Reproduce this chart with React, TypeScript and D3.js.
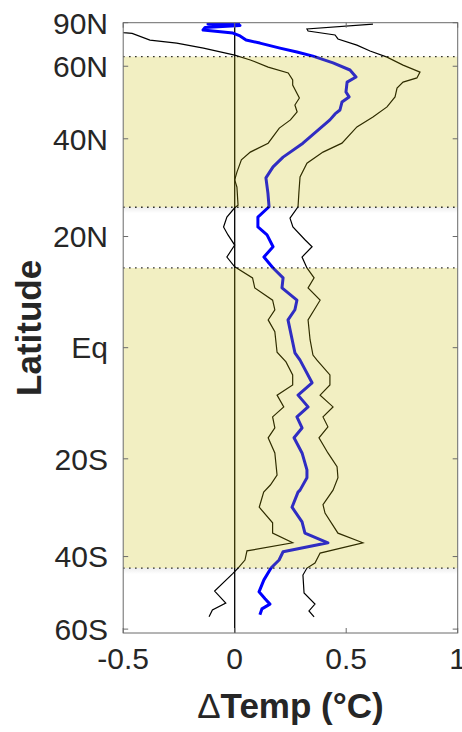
import React from "react";
import * as d3 from "d3";

// lower bound (thin black, left)
const lowerLat = [77.5, 75.8, 75.3, 71.2, 69.6, 67.2, 64.2, 62.3, 59.7, 57.7, 55.5, 53.9, 50.2, 48.3, 46.5, 44.5, 42.5, 39.0, 37.0, 35.3, 32.7, 31.1, 29.6, 26.0, 25.5, 23.7, 21.8, 20.3, 18.4, 16.2, 14.4, 12.4, 10.6, 8.4, 6.7, 4.9, 2.8, -0.8, -2.5, -4.8, -6.6, -8.4, -10.5, -12.3, -14.3, -16.1, -18.9, -23.1, -25.0, -26.4, -29.4, -32.6, -34.8, -36.9, -38.7, -40.8, -42.7, -44.1, -48.5, -51.8, -53.8, -55.9];
const lowerVal = [-0.56, -0.5, -0.46, -0.38, -0.26, -0.14, 0.0, 0.07, 0.15, 0.24, 0.26, 0.26, 0.29, 0.27, 0.28, 0.25, 0.2, 0.15, 0.07, 0.03, 0.01, 0.0, 0.01, 0.015, 0.0, -0.035, -0.05, -0.03, 0.0, -0.035, 0.0, 0.08, 0.09, 0.17, 0.18, 0.15, 0.18, 0.19, 0.23, 0.26, 0.26, 0.19, 0.22, 0.17, 0.18, 0.15, 0.18, 0.19, 0.16, 0.13, 0.11, 0.17, 0.17, 0.26, 0.055, 0.046, 0.015, -0.01, -0.09, -0.04, -0.1, -0.115];

// zonal mean (thick blue)
const meanLat = [87.5, 84.9, 82.5, 80.1, 77.8, 75.5, 73.6, 71.2, 69.6, 67.2, 65.5, 63.8, 61.2, 58.7, 56.4, 54.8, 51.9, 50.5, 49.1, 47.0, 46.0, 44.5, 39.0, 35.9, 33.8, 31.5, 28.4, 25.7, 23.7, 21.8, 20.3, 18.1, 16.2, 14.2, 12.4, 10.6, 8.4, 6.7, 4.9, -0.9, -2.2, -6.2, -8.4, -10.5, -12.3, -14.3, -16.1, -18.9, -22.1, -23.6, -26.0, -26.4, -29.4, -32.4, -34.8, -36.9, -38.9, -40.8, -42.7, -45.6, -48.7, -50.6, -52.1, -53.5, -55.3];
const meanVal = [0.024, -0.12, 0.024, -0.133, -0.142, -0.008, 0.024, 0.051, 0.113, 0.203, 0.279, 0.351, 0.441, 0.517, 0.544, 0.504, 0.499, 0.513, 0.481, 0.472, 0.45, 0.427, 0.306, 0.217, 0.172, 0.14, 0.149, 0.154, 0.104, 0.104, 0.145, 0.172, 0.131, 0.172, 0.217, 0.212, 0.279, 0.27, 0.239, 0.27, 0.293, 0.347, 0.284, 0.329, 0.279, 0.302, 0.266, 0.302, 0.324, 0.324, 0.293, 0.284, 0.257, 0.302, 0.315, 0.418, 0.217, 0.199, 0.163, 0.131, 0.109, 0.136, 0.158, 0.122, 0.113];

// upper bound (thin black, right)
const upperLat = [84.5, 78.7, 77.0, 74.2, 71.8, 68.6, 65.9, 63.4, 60.4, 58.0, 56.1, 54.8, 53.0, 50.5, 47.8, 45.2, 42.8, 39.0, 37.0, 34.6, 31.7, 28.6, 25.7, 23.5, 21.8, 19.4, 18.1, 16.2, 14.2, 12.4, 10.6, 8.4, 4.9, 1.4, -1.3, -2.2, -4.8, -6.6, -8.4, -10.5, -12.3, -14.1, -16.1, -18.9, -21.5, -23.6, -26.0, -28.9, -30.6, -34.8, -36.9, -39.2, -41.5, -42.7, -44.4, -49.0, -52.1, -54.1, -55.9];
const upperVal = [0.62, 0.324, 0.329, 0.45, 0.463, 0.548, 0.607, 0.683, 0.755, 0.831, 0.817, 0.755, 0.728, 0.719, 0.683, 0.62, 0.548, 0.481, 0.396, 0.324, 0.293, 0.288, 0.284, 0.248, 0.261, 0.315, 0.347, 0.302, 0.324, 0.356, 0.329, 0.383, 0.329, 0.338, 0.351, 0.369, 0.427, 0.427, 0.383, 0.441, 0.396, 0.418, 0.378, 0.418, 0.459, 0.463, 0.441, 0.396, 0.405, 0.463, 0.575, 0.383, 0.36, 0.324, 0.306, 0.311, 0.36, 0.333, 0.356];

// shaded latitude bands [north edge, south edge]
const bandNorth = [63.6, 25.6];
const bandSouth = [14.2, -42.7];

const xTicks = [-0.5, 0, 0.5, 1];
const xTickLabels = ["-0.5", "0", "0.5", "1"];
const latTicks = [90, 60, 40, 20, 0, -20, -40, -60];
const latTickLabels = ["90N", "60N", "40N", "20N", "Eq", "20S", "40S", "60S"];
const latLimits = [-61.4, 90];

const W = 462;
const H = 732;
const left = 123.2;
const right = 457.7;
const top = 22.7;
const bottom = 633;

const font = "'Liberation Sans', Arial, Helvetica, sans-serif";
const rad = (d: number) => (d * Math.PI) / 180;

export default function App() {
  const x = d3.scaleLinear().domain([-0.5, 1]).range([left, right]);
  // area-weighted latitude axis (sine of latitude)
  const ys = d3
    .scaleLinear()
    .domain(latLimits.map((l) => Math.sin(rad(l))))
    .range([bottom, top]);
  const y = (lat: number) => ys(Math.sin(rad(lat)));

  const line = d3
    .line<[number, number]>()
    .x((d) => x(d[1]))
    .y((d) => y(d[0]));

  const zip = (lats: number[], vals: number[]) =>
    lats.map((l, i) => [l, vals[i]] as [number, number]);

  const bands = [bandNorth, bandSouth];
  const tickLen = 5;
  const axisColor = "#6a6a6a";

  return (
    <svg
      width={W}
      height={H}
      style={{ position: "absolute", left: 0, top: 0, background: "#fff" }}
    >
      <defs>
        <clipPath id="plot">
          <rect x={left} y={top} width={right - left} height={bottom - top} />
        </clipPath>
        <linearGradient id="shadow" x1="0" y1="0" x2="0" y2="1">
          <stop offset="0" stopColor="#000" stopOpacity={0.07} />
          <stop offset="1" stopColor="#000" stopOpacity={0} />
        </linearGradient>
      </defs>

      <g clipPath="url(#plot)">
        {/* zero line */}
        <line x1={x(0)} x2={x(0)} y1={top} y2={bottom} stroke="#000" strokeWidth={1.3} />

        <path d={line(zip(lowerLat, lowerVal)) || ""} fill="none" stroke="#000" strokeWidth={1.2} />
        <path d={line(zip(upperLat, upperVal)) || ""} fill="none" stroke="#000" strokeWidth={1.2} />
        <path
          d={line(zip(meanLat, meanVal)) || ""}
          fill="none"
          stroke="#0000ff"
          strokeWidth={3}
          strokeLinejoin="round"
        />

        {/* translucent bands drawn over the lines */}
        {bands.map((b, i) => (
          <g key={i}>
            <rect
              x={left}
              y={y(b[0])}
              width={right - left}
              height={y(b[1]) - y(b[0])}
              fill="#c8bb00"
              fillOpacity={0.24}
            />
            <rect x={left} y={y(b[1])} width={right - left} height={6} fill="url(#shadow)" />
            {b.map((lat) => (
              <line
                key={lat}
                x1={left}
                x2={right}
                y1={y(lat)}
                y2={y(lat)}
                stroke="#000"
                strokeWidth={1.3}
                strokeDasharray="1.3 4.7"
              />
            ))}
          </g>
        ))}
      </g>

      {/* axes box */}
      <rect
        x={left}
        y={top}
        width={right - left}
        height={bottom - top}
        fill="none"
        stroke={axisColor}
        strokeWidth={1}
      />
      {xTicks.map((t) => (
        <g key={t}>
          <line x1={x(t)} x2={x(t)} y1={bottom} y2={bottom - tickLen} stroke={axisColor} />
          <line x1={x(t)} x2={x(t)} y1={top} y2={top + tickLen} stroke={axisColor} />
        </g>
      ))}
      {latTicks.map((t) => (
        <g key={t}>
          <line x1={left} x2={left + tickLen} y1={y(t)} y2={y(t)} stroke={axisColor} />
          <line x1={right} x2={right - tickLen} y1={y(t)} y2={y(t)} stroke={axisColor} />
        </g>
      ))}

      {/* tick labels */}
      {latTicks.map((t, i) => (
        <text
          key={t}
          x={108}
          y={y(t)}
          dy="0.36em"
          textAnchor="end"
          fontFamily={font}
          fontSize={30}
          fill="#262626"
        >
          {latTickLabels[i]}
        </text>
      ))}
      {xTicks.map((t, i) => (
        <text
          key={t}
          x={x(t)}
          y={669}
          textAnchor="middle"
          fontFamily={font}
          fontSize={30}
          fill="#262626"
        >
          {xTickLabels[i]}
        </text>
      ))}

      {/* axis titles */}
      <text
        transform={`translate(41, ${(top + bottom) / 2}) rotate(-90)`}
        textAnchor="middle"
        fontFamily={font}
        fontSize={35}
        fontWeight="bold"
        fill="#262626"
      >
        Latitude
      </text>
      <text
        x={(left + right) / 2}
        y={718}
        textAnchor="middle"
        fontFamily={font}
        fontSize={35}
        fontWeight="bold"
        fill="#262626"
      >
        <tspan fontWeight="normal">Δ</tspan>Temp (°C)
      </text>
    </svg>
  );
}
